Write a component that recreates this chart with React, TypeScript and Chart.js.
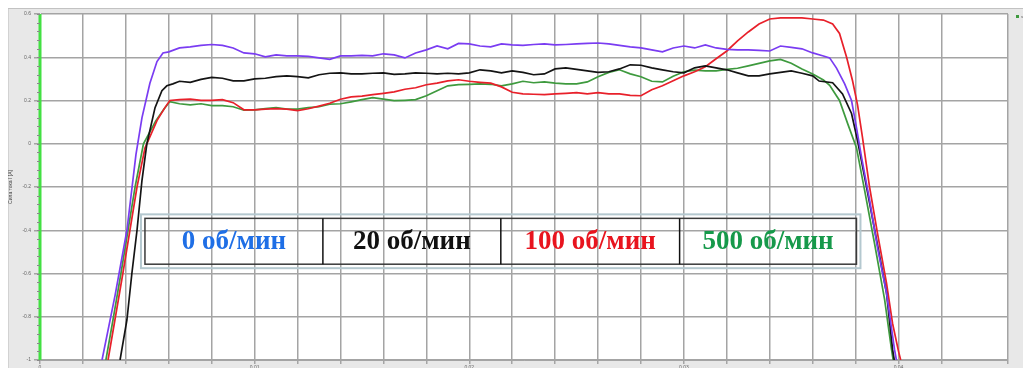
import React, { useEffect, useRef } from "react";
import { Chart, registerables } from "chart.js";
Chart.register(...registerables);

// ---- time grid of the plateau (s) ----
const plateauT = [
  0.0065, 0.007, 0.0075, 0.008, 0.0085, 0.009, 0.0095, 0.01, 0.0105, 0.011,
  0.0115, 0.012, 0.0125, 0.013, 0.0135, 0.014, 0.0145, 0.015, 0.0155, 0.016,
  0.0165, 0.017, 0.0175, 0.018, 0.0185, 0.019, 0.0195, 0.02, 0.0205, 0.021,
  0.0215, 0.022, 0.0225, 0.023, 0.0235, 0.024, 0.0245, 0.025, 0.0255, 0.026,
  0.0265, 0.027, 0.0275, 0.028, 0.0285, 0.029, 0.0295, 0.03, 0.0305, 0.031,
  0.0315, 0.032, 0.0325, 0.033, 0.0335, 0.034, 0.0345, 0.035, 0.0355, 0.036,
];

// ---- 0 об/мин (purple) ----
const purpleRiseT = [0.00289, 0.0035, 0.00405, 0.00447, 0.00475, 0.00512, 0.00545, 0.00573, 0.006];
const purpleRiseI = [-1, -0.7, -0.4, -0.05, 0.12, 0.28, 0.38, 0.42, 0.425];
const purplePlateau = [
  0.443, 0.448, 0.455, 0.459, 0.455, 0.443, 0.42, 0.416, 0.402, 0.411,
  0.406, 0.406, 0.404, 0.397, 0.39, 0.406, 0.406, 0.409, 0.406, 0.416,
  0.411, 0.397, 0.42, 0.434, 0.452, 0.439, 0.464, 0.462, 0.452, 0.448,
  0.462, 0.457, 0.455, 0.459, 0.462, 0.457, 0.459, 0.462, 0.464, 0.466,
  0.462, 0.455, 0.448, 0.443, 0.434, 0.425, 0.443, 0.452, 0.443, 0.457,
  0.443, 0.436, 0.434, 0.434, 0.432, 0.429, 0.452, 0.446, 0.439, 0.42,
];
const purpleFallT = [0.0365, 0.03679, 0.03711, 0.03749, 0.03781, 0.03804, 0.03828, 0.03865, 0.03902, 0.03944, 0.03981, 0.0399];
const purpleFallI = [0.406, 0.397, 0.35, 0.277, 0.2, 0.075, -0.064, -0.26, -0.48, -0.69, -0.95, -1];

// ---- 20 об/мин (black) ----
const blackRiseT = [0.00373, 0.00405, 0.00428, 0.00452, 0.00475, 0.00498, 0.00536, 0.00568, 0.00591, 0.00619];
const blackRiseI = [-1, -0.815, -0.6, -0.4, -0.17, 0, 0.167, 0.245, 0.268, 0.277];
const blackPlateau = [
  0.289, 0.284, 0.298, 0.307, 0.303, 0.291, 0.291, 0.3, 0.303, 0.31,
  0.314, 0.31, 0.305, 0.319, 0.326, 0.328, 0.323, 0.323, 0.326, 0.328,
  0.321, 0.323, 0.328, 0.326, 0.323, 0.326, 0.323, 0.328, 0.342, 0.337,
  0.328, 0.337, 0.33, 0.319, 0.323, 0.346, 0.351, 0.344, 0.337, 0.33,
  0.333, 0.346, 0.365, 0.363, 0.351, 0.342, 0.333, 0.328, 0.351, 0.36,
  0.351, 0.342, 0.328, 0.314, 0.314, 0.323, 0.33, 0.337, 0.326, 0.314,
];
const blackFallT = [0.0363, 0.03693, 0.03739, 0.03781, 0.03809, 0.03851, 0.03898, 0.03944, 0.03972, 0.0398];
const blackFallI = [0.29, 0.282, 0.23, 0.14, 0.015, -0.2, -0.447, -0.69, -0.95, -1];

// ---- 100 об/мин (red) ----
const redRiseT = [0.00317, 0.00349, 0.00386, 0.00419, 0.00452, 0.00489, 0.00545, 0.00582, 0.00605];
const redRiseI = [-1, -0.815, -0.6, -0.4, -0.2, -0.02, 0.107, 0.167, 0.2];
const redPlateau = [
  0.204, 0.206, 0.201, 0.201, 0.204, 0.19, 0.157, 0.157, 0.16, 0.162,
  0.16, 0.153, 0.162, 0.174, 0.187, 0.206, 0.217, 0.22, 0.227, 0.233,
  0.24, 0.252, 0.259, 0.273, 0.28, 0.291, 0.296, 0.289, 0.284, 0.28,
  0.263, 0.238, 0.231, 0.229, 0.227, 0.231, 0.233, 0.236, 0.231, 0.236,
  0.231, 0.231, 0.224, 0.222, 0.25, 0.268, 0.291, 0.314, 0.333, 0.356,
  0.393, 0.429, 0.476, 0.517, 0.554, 0.577, 0.582, 0.582, 0.582, 0.577,
];
const redFallT = [0.0365, 0.03693, 0.03725, 0.03758, 0.03786, 0.03809, 0.03832, 0.03865, 0.03902, 0.03944, 0.03972, 0.04, 0.0401];
const redFallI = [0.572, 0.554, 0.51, 0.4, 0.29, 0.18, 0.03, -0.2, -0.414, -0.645, -0.83, -0.96, -1];

// ---- 500 об/мин (green) ----
const greenRiseT = [0.00307, 0.0034, 0.00377, 0.0041, 0.00443, 0.00482, 0.0054, 0.00577, 0.00605];
const greenRiseI = [-1, -0.815, -0.6, -0.4, -0.2, 0, 0.107, 0.16, 0.195];
const greenPlateau = [
  0.185, 0.18, 0.185, 0.176, 0.176, 0.171, 0.155, 0.157, 0.162, 0.167,
  0.16, 0.16, 0.167, 0.171, 0.183, 0.185, 0.194, 0.204, 0.213, 0.206,
  0.199, 0.201, 0.204, 0.222, 0.245, 0.268, 0.273, 0.275, 0.277, 0.275,
  0.268, 0.277, 0.289, 0.282, 0.286, 0.28, 0.277, 0.277, 0.286, 0.31,
  0.33, 0.342, 0.323, 0.31, 0.289, 0.286, 0.312, 0.333, 0.34, 0.337,
  0.337, 0.344, 0.349, 0.36, 0.372, 0.383, 0.39, 0.372, 0.346, 0.323,
];
const greenFallT = [0.0365, 0.03679, 0.03725, 0.03763, 0.03804, 0.03842, 0.03888, 0.03935, 0.03967, 0.03975];
const greenFallI = [0.295, 0.27, 0.2, 0.093, -0.018, -0.216, -0.46, -0.72, -0.95, -1];

// ---- green marker series along t = 0 ----
const axisSeriesT = [0, 0];
const axisSeriesI = [-1, 0.6];

// ---- annotation table ----
const tableLabels = ["0 об/мин", "20 об/мин", "100 об/мин", "500 об/мин"];
const tableColors = ["#1f6fe6", "#111111", "#e8141e", "#16994a"];
const tableEdgesT = [0.00489, 0.01318, 0.02147, 0.0298, 0.03804];
const tableEdgesI = [-0.345, -0.557];

const seriesNames = ["0 об/мин", "20 об/мин", "100 об/мин", "500 об/мин"];
const seriesColors = ["#7a3cf2", "#141414", "#e8202a", "#3e9a3e"];

function build(rT: number[], rI: number[], plat: number[], fT: number[], fI: number[]) {
  const pts: { x: number; y: number }[] = [];
  rT.forEach((t, i) => pts.push({ x: t, y: rI[i] }));
  plateauT.forEach((t, i) => pts.push({ x: t, y: plat[i] }));
  fT.forEach((t, i) => pts.push({ x: t, y: fI[i] }));
  return pts;
}

const bgPlugin = {
  id: "bgPlot",
  beforeDraw(chart: any) {
    const { ctx, chartArea: a } = chart;
    ctx.save();
    ctx.fillStyle = "#ffffff";
    ctx.fillRect(a.left, a.top, a.right - a.left, a.bottom - a.top);
    ctx.restore();
  },
  afterDraw(chart: any) {
    const { ctx, chartArea: a } = chart;
    const y = chart.scales.y;
    ctx.save();
    ctx.strokeStyle = "#8a8a8a";
    ctx.lineWidth = 1;
    for (let i = 0; i <= 40; i++) {
      const v = -1 + i * 0.04;
      const py = Math.round(y.getPixelForValue(v)) + 0.5;
      ctx.beginPath();
      ctx.moveTo(a.left - 3, py);
      ctx.lineTo(a.left, py);
      ctx.stroke();
    }
    // legend (top right)
    ctx.fillStyle = "#3e9a3e";
    ctx.fillRect(a.right + 8, a.top + 1, 3, 3);
    ctx.font = "4px Arial, sans-serif";
    ctx.fillStyle = "#555";
    ctx.textBaseline = "middle";
    ctx.fillText("series1", a.right + 13, a.top + 2.5);
    ctx.restore();
  },
};

const tablePlugin = {
  id: "table",
  afterDatasetsDraw(chart: any) {
    const { ctx } = chart;
    const xs = chart.scales.x;
    const ys = chart.scales.y;
    const px = tableEdgesT.map((t) => xs.getPixelForValue(t));
    const top = ys.getPixelForValue(tableEdgesI[0]);
    const bot = ys.getPixelForValue(tableEdgesI[1]);
    ctx.save();
    // light outer frame
    ctx.strokeStyle = "#b4c8cf";
    ctx.lineWidth = 2;
    ctx.strokeRect(px[0] - 4, top - 4, px[4] - px[0] + 8, bot - top + 8);
    // dark border
    ctx.strokeStyle = "#3a3a3a";
    ctx.lineWidth = 1.5;
    ctx.strokeRect(px[0], top, px[4] - px[0], bot - top);
    ctx.strokeStyle = "#111";
    ctx.lineWidth = 1.5;
    for (let i = 1; i < 4; i++) {
      ctx.beginPath();
      ctx.moveTo(px[i], top);
      ctx.lineTo(px[i], bot);
      ctx.stroke();
    }
    ctx.font = "bold 27px 'Liberation Serif', 'Times New Roman', serif";
    ctx.textAlign = "center";
    ctx.textBaseline = "middle";
    for (let i = 0; i < 4; i++) {
      ctx.fillStyle = tableColors[i];
      ctx.fillText(tableLabels[i], (px[i] + px[i + 1]) / 2, (top + bot) / 2 + 1);
    }
    ctx.restore();
  },
};

export default function App() {
  const ref = useRef<HTMLCanvasElement | null>(null);
  useEffect(() => {
    document.body.style.overflow = "hidden";
    const canvas = ref.current!;
    const lines = [
      build(purpleRiseT, purpleRiseI, purplePlateau, purpleFallT, purpleFallI),
      build(blackRiseT, blackRiseI, blackPlateau, blackFallT, blackFallI),
      build(redRiseT, redRiseI, redPlateau, redFallT, redFallI),
      build(greenRiseT, greenRiseI, greenPlateau, greenFallT, greenFallI),
    ];
    const axisLine = axisSeriesT.map((t, i) => ({ x: t, y: axisSeriesI[i] }));
    const chart = new Chart(canvas, {
      type: "line",
      data: {
        datasets: [
          {
            label: "series1",
            data: axisLine,
            borderColor: "#42e042",
            borderWidth: 3,
            pointRadius: 0,
            clip: { left: 3, top: 0, right: 0, bottom: 0 } as any,
          },
          ...lines.map((d, i) => ({
            label: seriesNames[i],
            data: d,
            borderColor: seriesColors[i],
            borderWidth: 1.7,
            pointRadius: 0,
            tension: 0,
          })),
        ],
      },
      options: {
        animation: false,
        responsive: false,
        devicePixelRatio: 1,
        layout: { padding: { left: 0, top: 5, right: 23, bottom: 0 } },
        plugins: { legend: { display: false }, tooltip: { enabled: false } },
        scales: {
          x: {
            type: "linear",
            min: 0,
            max: 0.0451,
            afterFit: (s: any) => {
              s.height = 16;
            },
            ticks: {
              stepSize: 0.002,
              autoSkip: false,
              maxRotation: 0,
              padding: 1,
              color: "#666",
              font: { size: 5, family: "Arial, sans-serif" },
              callback: (v: any) => {
                const n = Number(v) / 0.01;
                if (Math.abs(n - Math.round(n)) < 1e-6) {
                  const r = Math.round(n) / 100;
                  return r === 0 ? "0" : String(r);
                }
                return "";
              },
            },
            grid: { color: "#a4a4a4", lineWidth: 1.5, tickLength: 4 },
            border: { color: "#a4a4a4" },
            title: {
              display: true,
              text: "Время [с]",
              color: "#444",
              font: { size: 5, family: "Arial, sans-serif" },
              padding: 0,
            },
          },
          y: {
            min: -1,
            max: 0.6,
            afterFit: (s: any) => {
              s.width = 32;
            },
            ticks: {
              stepSize: 0.2,
              padding: 3,
              color: "#666",
              font: { size: 5, family: "Arial, sans-serif" },
              callback: (v: any) => {
                const r = Math.round(Number(v) * 10) / 10;
                return r === 0 ? "0" : String(r);
              },
            },
            grid: { color: "#a4a4a4", lineWidth: 1.5, tickLength: 6 },
            border: { color: "#a4a4a4" },
            title: {
              display: true,
              text: "Сила тока I [A]",
              color: "#444",
              font: { size: 5, family: "Arial, sans-serif" },
              padding: 0,
            },
          },
        },
      },
      plugins: [bgPlugin, tablePlugin],
    });
    return () => chart.destroy();
  }, []);
  return (
    <div
      style={{
        position: "relative",
        width: 1023,
        height: 368,
        marginBottom: -8,
        background: "#e8e8e8",
        boxShadow: "inset 0 1px 0 #c2c2c2, inset 1px 0 0 #d2d2d2",
      }}
    >
      <canvas ref={ref} width={1023} height={368} style={{ display: "block", width: 1023, height: 368 }} />
    </div>
  );
}
